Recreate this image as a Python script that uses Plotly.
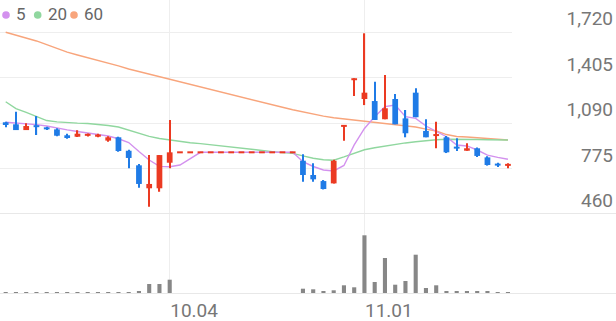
import plotly.graph_objects as go

# ---------------- data ----------------
days = list(range(50))
tick_days = [16, 35]
tick_text = ["10.04", "11.01"]
price_ticks = [460, 775, 1090, 1405, 1720]

open_ = [1095, 1081, 1041, 1074, 1060, 1046, 1005, 995, 1002, 995, 968, 991, 898, 797, 638, 638, 815,
         887, 887, 887, 887, 887, 887, 887, 887, 887, 887, 887, 887,
         829, 730, 688, 672, 1064, 1386, 1256, 1242, 1116, 1256, 1122, 1300, 1035, 1003, 991, 924, 898,
         915, 852, 806, 794]
high_ = [1099, 1168, 1088, 1138, 1064, 1053, 1016, 1040, 1018, 1016, 998, 995, 905, 806, 868, 868, 1111,
         887, 887, 887, 887, 887, 887, 887, 887, 887, 887, 887, 887,
         873, 811, 695, 836, 1076, 1400, 1711, 1376, 1422, 1291, 1180, 1330, 1116, 1099, 1000, 984, 949,
         920, 860, 815, 811]
low_ = [1060, 1041, 1041, 1007, 1041, 999, 981, 993, 997, 991, 960, 891, 776, 642, 510, 614, 776,
        887, 887, 887, 887, 887, 887, 887, 887, 887, 887, 887, 887,
        684, 684, 630, 672, 967, 1277, 1214, 1111, 1116, 1081, 991, 1130, 991, 915, 882, 896, 898,
        855, 795, 785, 776]
close_ = [1076, 1041, 1069, 1062, 1046, 1002, 986, 1016, 1014, 1010, 991, 896, 848, 668, 668, 868, 887,
          887, 887, 887, 887, 887, 887, 887, 887, 887, 887, 887, 887,
          730, 700, 633, 829, 1076, 1400, 1300, 1111, 1192, 1081, 1019, 1130, 991, 1010, 887, 915, 915,
          862, 799, 798, 806]

ma5 = [1095, 1090, 1084, 1079, 1069, 1053, 1042, 1031, 1022, 1014, 1000, 981, 955, 893, 834, 790, 787,
       799, 844, 887, 887, 887, 887, 887, 887, 887, 887, 887, 887,
       822, 789, 765, 758, 796, 938, 1052, 1134, 1203, 1215, 1134, 1122, 1069, 1030, 995, 938, 931,
       903, 868, 852, 839]
ma20 = [1237, 1190, 1163, 1136, 1107, 1098, 1092, 1089, 1087, 1082, 1073, 1062, 1042, 1017, 997, 983, 972,
        960, 953, 947, 940, 933, 925, 918, 910, 900, 891, 885, 880,
        862, 846, 836, 832, 855, 882, 905, 919, 931, 941, 952, 960, 969, 974, 977, 978, 977,
        976, 974, 973, 972]
ma60 = [1718, 1699, 1678, 1658, 1633, 1606, 1581, 1561, 1543, 1523, 1505, 1485, 1464, 1446, 1429, 1412, 1395,
        1376, 1360, 1341, 1323, 1305, 1287, 1270, 1253, 1235, 1217, 1199, 1182,
        1166, 1152, 1138, 1126, 1118, 1111, 1105, 1098, 1090, 1080, 1071, 1062, 1048, 1035, 1010, 997, 993,
        988, 983, 978, 972]
volume = [500, 400, 400, 300, 400, 300, 400, 300, 300, 300, 400, 500, 700, 1700, 9000, 9000, 13300,
          0, 0, 0, 0, 0, 0, 0, 0, 0, 0, 0, 0,
          4300, 3700, 1300, 2700, 7700, 5700, 57700, 11000, 35000, 8300, 12000, 38300, 5000, 7700, 2000,
          2000, 2000, 1700, 1700, 1000, 700]

# ---------------- layout constants ----------------
W, H = 616, 321
STEP = 10.25        # px per day
X0 = 5.7            # px of first day
PRICE_RIGHT = 512   # px where price grid ends
PRICE_BOT = 214     # px of 460 line
VOL_BOT = 293       # px of volume baseline
PX_PER_WON = (214 - 32) / (1720 - 460)

RED = "#eb3a22"
BLUE = "#1f7be6"
C5, C20, C60 = "#d391ee", "#90d79f", "#f8a57c"
GRID = "#eeeeee"
TXT = "#777777"
FONT = "Roboto"

r0 = -X0 / STEP
price_xrange = [r0, r0 + PRICE_RIGHT / STEP]
vol_xrange = [r0, r0 + W / STEP]
price_yrange = [price_ticks[0], price_ticks[0] + PRICE_BOT / PX_PER_WON]
vol_max_px = 57.7
vol_yrange = [0, max(volume) * (VOL_BOT - PRICE_BOT) / vol_max_px]

# candle colours: up red, down blue, unchanged keeps the previous direction
colors = []
prev = RED
for o, c in zip(open_, close_):
    col = RED if c > o else (BLUE if c < o else prev)
    colors.append(col)
    prev = col

# minimum visible body height (2 px) so unchanged days show as short dashes
min_body = 2.0 / PX_PER_WON
body_base, body_len = [], []
for o, c in zip(open_, close_):
    lo, hi = min(o, c), max(o, c)
    if hi - lo < min_body:
        mid = (o + c) / 2
        lo, hi = mid - min_body / 2, mid + min_body / 2
    body_base.append(lo)
    body_len.append(hi - lo)
wick_len = [h - l for h, l in zip(high_, low_)]

fig = go.Figure()
# moving averages on the base price axis (drawn below the candles)
for vals, col in [(ma60, C60), (ma20, C20), (ma5, C5)]:
    fig.add_trace(go.Scatter(x=days, y=vals, mode="lines", line=dict(color=col, width=1.4),
                             xaxis="x", yaxis="y", hoverinfo="skip", showlegend=False))
# candles on an overlaying axis with the same range, so they sit on top of the lines
fig.add_trace(go.Bar(x=days, y=wick_len, base=low_, width=0.13,
                     marker=dict(color=colors, line=dict(width=0)),
                     xaxis="x", yaxis="y3", showlegend=False, hoverinfo="skip"))
fig.add_trace(go.Bar(x=days, y=body_len, base=body_base, width=0.56,
                     marker=dict(color=colors, line=dict(width=0)),
                     customdata=list(zip(open_, high_, low_, close_)),
                     hovertemplate="O %{customdata[0]}<br>H %{customdata[1]}<br>L %{customdata[2]}"
                                   "<br>C %{customdata[3]}<extra></extra>",
                     xaxis="x", yaxis="y3", showlegend=False))
fig.add_trace(go.Bar(x=days, y=volume, width=0.4, marker=dict(color="#878787", line=dict(width=0)),
                     xaxis="x2", yaxis="y2", showlegend=False, hoverinfo="skip"))

price_dom = [(H - PRICE_BOT) / H, 1]
vol_dom = [(H - VOL_BOT) / H, (H - PRICE_BOT) / H]

fig.update_layout(
    width=W, height=H, margin=dict(l=0, r=0, t=0, b=0),
    paper_bgcolor="white", plot_bgcolor="white",
    font=dict(family=FONT, color=TXT),
    showlegend=False, barmode="overlay",
    xaxis=dict(domain=[0, PRICE_RIGHT / W], range=price_xrange, anchor="y",
               tickvals=tick_days, showticklabels=False, showgrid=True, gridcolor=GRID,
               zeroline=False, ticks="", fixedrange=True),
    yaxis=dict(domain=price_dom, range=price_yrange, anchor="x", tickvals=price_ticks,
               showticklabels=False, showgrid=True, gridcolor=GRID, zeroline=False, ticks=""),
    yaxis3=dict(overlaying="y", anchor="free", position=1, side="right", range=price_yrange,
                tickvals=price_ticks, tickformat=",d", ticklabelposition="inside top",
                ticklabeloverflow="allow", showgrid=False, zeroline=False, ticks="",
                tickfont=dict(size=19, color=TXT, family=FONT)),
    xaxis2=dict(domain=[0, 1], range=vol_xrange, anchor="y2", tickvals=tick_days, ticktext=tick_text,
                ticklabelposition="outside right", showgrid=True, gridcolor=GRID, zeroline=False,
                showline=True, linecolor="#e8e8e8", linewidth=1, mirror=True, ticks="",
                tickfont=dict(size=19, color=TXT, family=FONT)),
    yaxis2=dict(domain=vol_dom, range=vol_yrange, anchor="x2", showgrid=False, showticklabels=False,
                zeroline=False, ticks=""),
)

# legend: coloured dots + labels
legend_items = [("5", C5), ("20", C20), ("60", C60)]
dot_x = [6, 37.7, 74]
lab_x = [14, 45.5, 82]
shapes, annos = [], []
for (lab, col), dx, lx in zip(legend_items, dot_x, lab_x):
    r = 3.8
    shapes.append(dict(type="circle", xref="paper", yref="paper",
                       x0=(dx - r) / W, x1=(dx + r) / W, y0=1 - (15 + r) / H, y1=1 - (15 - r) / H,
                       fillcolor=col, line=dict(width=0)))
    annos.append(dict(text=lab, xref="paper", yref="paper", x=lx / W, y=1 - 14 / H,
                      xanchor="left", yanchor="middle", showarrow=False,
                      font=dict(size=17, color="#666666", family=FONT)))
fig.update_layout(shapes=shapes, annotations=annos)

fig.write_html("out.html")
